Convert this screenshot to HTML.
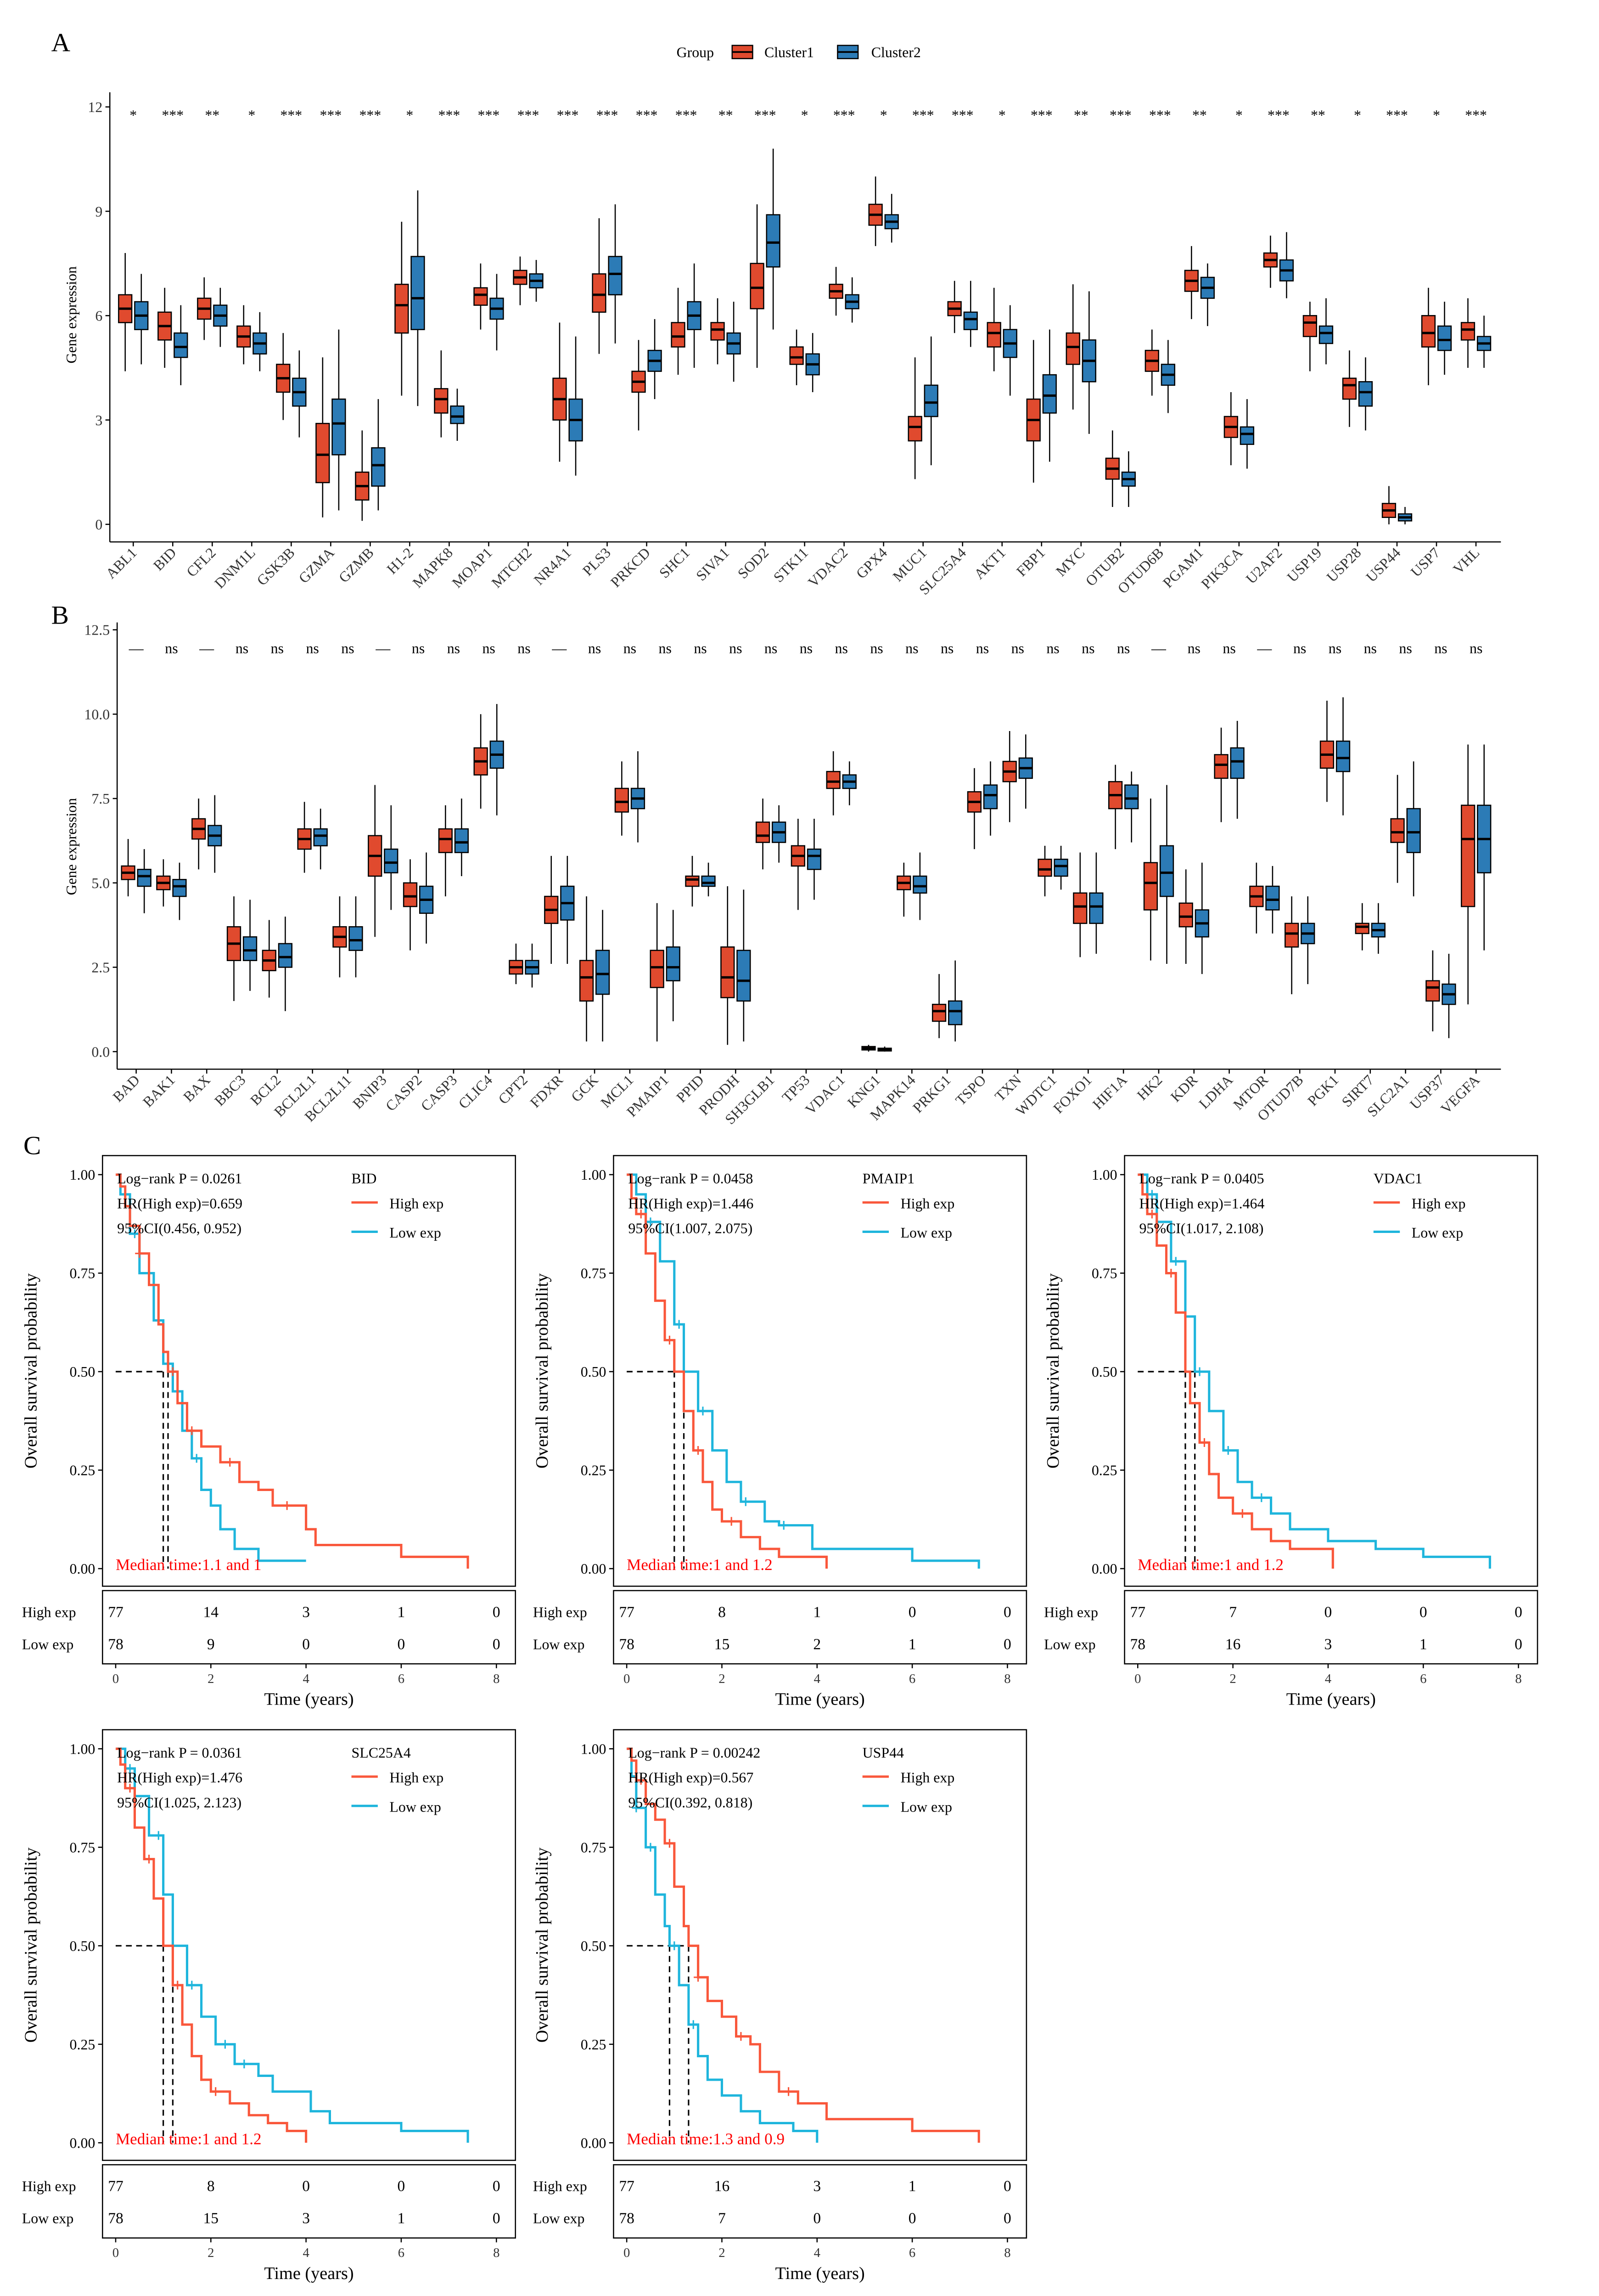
<!DOCTYPE html>
<html><head><meta charset="utf-8">
<style>
html,body{margin:0;padding:0;background:#fff;width:3483px;height:5102px;overflow:hidden;}
svg{display:block;font-family:"Liberation Serif",serif;}
</style></head>
<body>
<svg id="fig" width="3483" height="5102" viewBox="0 0 1092 1599.6" xmlns="http://www.w3.org/2000/svg" overflow="hidden">
<rect width="1092" height="1599.6" fill="#fff"/>
<g id="root"></g>
</svg>
<script>
// ---------- Panel A data ----------
const genesA=["ABL1","BID","CFL2","DNM1L","GSK3B","GZMA","GZMB","H1-2","MAPK8","MOAP1","MTCH2","NR4A1","PLS3","PRKCD","SHC1","SIVA1","SOD2","STK11","VDAC2","GPX4","MUC1","SLC25A4","AKT1","FBP1","MYC","OTUB2","OTUD6B","PGAM1","PIK3CA","U2AF2","USP19","USP28","USP44","USP7","VHL"];
const sigA=["*","***","**","*","***","***","***","*","***","***","***","***","***","***","***","**","***","*","***","*","***","***","*","***","**","***","***","**","*","***","**","*","***","*","***"];
// [median, q1, q3, whiskerLow, whiskerHigh]
const cluster1A=[[6.2,5.8,6.6,4.4,7.8],[5.7,5.3,6.1,4.5,6.8],[6.2,5.9,6.5,5.3,7.1],[5.4,5.1,5.7,4.6,6.3],[4.2,3.8,4.6,3.0,5.5],[2.0,1.2,2.9,0.2,4.8],[1.1,0.7,1.5,0.1,2.7],[6.3,5.5,6.9,3.7,8.7],[3.6,3.2,3.9,2.5,5.0],[6.6,6.3,6.8,5.6,7.5],[7.1,6.9,7.3,6.3,7.7],[3.6,3.0,4.2,1.8,5.8],[6.6,6.1,7.2,4.9,8.8],[4.1,3.8,4.4,2.7,5.3],[5.4,5.1,5.8,4.3,6.8],[5.6,5.3,5.8,4.6,6.5],[6.8,6.2,7.5,4.5,9.2],[4.8,4.6,5.1,4.0,5.6],[6.7,6.5,6.9,6.0,7.4],[8.9,8.6,9.2,8.0,10.0],[2.8,2.4,3.1,1.3,4.8],[6.2,6.0,6.4,5.5,7.0],[5.5,5.1,5.8,4.4,6.8],[3.0,2.4,3.6,1.2,5.3],[5.1,4.6,5.5,3.3,6.9],[1.6,1.3,1.9,0.5,2.7],[4.7,4.4,5.0,3.7,5.6],[7.0,6.7,7.3,5.9,8.0],[2.8,2.5,3.1,1.7,3.8],[7.6,7.4,7.8,6.8,8.3],[5.8,5.4,6.0,4.4,6.4],[4.0,3.6,4.2,2.8,5.0],[0.4,0.2,0.6,0.0,1.1],[5.5,5.1,6.0,4.0,6.8],[5.6,5.3,5.8,4.5,6.5]];
const cluster2A=[[6.0,5.6,6.4,4.6,7.2],[5.1,4.8,5.5,4.0,6.3],[6.0,5.7,6.3,5.1,6.8],[5.2,4.9,5.5,4.4,6.1],[3.8,3.4,4.2,2.5,5.0],[2.9,2.0,3.6,0.4,5.6],[1.7,1.1,2.2,0.4,3.6],[6.5,5.6,7.7,3.4,9.6],[3.1,2.9,3.4,2.4,3.9],[6.2,5.9,6.5,5.0,7.2],[7.0,6.8,7.2,6.4,7.6],[3.0,2.4,3.6,1.4,5.4],[7.2,6.6,7.7,5.2,9.2],[4.7,4.4,5.0,3.6,5.9],[6.0,5.6,6.4,4.5,7.5],[5.2,4.9,5.5,4.1,6.4],[8.1,7.4,8.9,5.6,10.8],[4.6,4.3,4.9,3.8,5.5],[6.4,6.2,6.6,5.8,7.1],[8.7,8.5,8.9,8.1,9.5],[3.5,3.1,4.0,1.7,5.4],[5.9,5.6,6.1,5.1,7.0],[5.2,4.8,5.6,3.7,6.3],[3.7,3.2,4.3,1.8,5.6],[4.7,4.1,5.3,2.6,6.7],[1.3,1.1,1.5,0.5,2.1],[4.3,4.0,4.6,3.2,5.3],[6.8,6.5,7.1,5.7,7.5],[2.6,2.3,2.8,1.6,3.6],[7.3,7.0,7.6,6.5,8.4],[5.5,5.2,5.7,4.6,6.5],[3.8,3.4,4.1,2.7,4.8],[0.2,0.1,0.3,0.0,0.5],[5.3,5.0,5.7,4.3,6.4],[5.2,5.0,5.4,4.5,6.0]];
const ticksA=[0,3,6,9,12];
// ---------- Panel B data ----------
const genesB=["BAD","BAK1","BAX","BBC3","BCL2","BCL2L1","BCL2L11","BNIP3","CASP2","CASP3","CLIC4","CPT2","FDXR","GCK","MCL1","PMAIP1","PPID","PRODH","SH3GLB1","TP53","VDAC1","KNG1","MAPK14","PRKG1","TSPO","TXN","WDTC1","FOXO1","HIF1A","HK2","KDR","LDHA","MTOR","OTUD7B","PGK1","SIRT7","SLC2A1","USP37","VEGFA"];
const sigB=["—","ns","—","ns","ns","ns","ns","—","ns","ns","ns","ns","—","ns","ns","ns","ns","ns","ns","ns","ns","ns","ns","ns","ns","ns","ns","ns","ns","—","ns","ns","—","ns","ns","ns","ns","ns","ns"];
const cluster1B=[[5.3,5.1,5.5,4.6,6.3],[5.0,4.8,5.2,4.3,5.7],[6.6,6.3,6.9,5.4,7.5],[3.2,2.7,3.7,1.5,4.6],[2.7,2.4,3.0,1.6,3.9],[6.3,6.0,6.6,5.3,7.4],[3.4,3.1,3.7,2.2,4.6],[5.8,5.2,6.4,3.4,7.9],[4.6,4.3,5.0,3.0,5.7],[6.3,5.9,6.6,4.6,7.3],[8.6,8.2,9.0,7.2,10.0],[2.5,2.3,2.7,2.0,3.2],[4.2,3.8,4.6,2.6,5.8],[2.2,1.5,2.7,0.3,4.6],[7.4,7.1,7.8,6.4,8.6],[2.5,1.9,3.0,0.3,4.4],[5.1,4.9,5.2,4.3,5.8],[2.2,1.6,3.1,0.2,4.9],[6.4,6.2,6.8,5.4,7.5],[5.8,5.5,6.1,4.2,6.9],[8.0,7.8,8.3,7.0,8.9],[0.1,0.05,0.15,0,0.2],[5.0,4.8,5.2,4.0,5.6],[1.2,0.9,1.4,0.4,2.3],[7.4,7.1,7.7,6.0,8.4],[8.3,8.0,8.6,6.8,9.5],[5.4,5.2,5.7,4.6,6.1],[4.3,3.8,4.7,2.8,5.9],[7.6,7.2,8.0,6.0,8.5],[5.0,4.2,5.6,2.7,7.5],[4.0,3.7,4.4,2.6,5.4],[8.5,8.1,8.8,6.8,9.6],[4.6,4.3,4.9,3.5,5.6],[3.5,3.1,3.8,1.7,4.6],[8.8,8.4,9.2,7.4,10.4],[3.7,3.5,3.8,3.0,4.4],[6.5,6.2,6.9,5.0,8.2],[1.9,1.5,2.1,0.6,3.0],[6.3,4.3,7.3,1.4,9.1]];
const cluster2B=[[5.2,4.9,5.4,4.1,6.0],[4.9,4.6,5.1,3.9,5.6],[6.4,6.1,6.7,5.3,7.6],[3.0,2.7,3.4,1.8,4.5],[2.8,2.5,3.2,1.2,4.0],[6.4,6.1,6.6,5.4,7.2],[3.3,3.0,3.7,2.2,4.6],[5.6,5.3,6.0,4.2,7.3],[4.5,4.1,4.9,3.2,5.9],[6.2,5.9,6.6,5.2,7.5],[8.8,8.4,9.2,7.0,10.3],[2.5,2.3,2.7,1.9,3.2],[4.4,3.9,4.9,2.6,5.8],[2.3,1.7,3.0,0.3,4.2],[7.5,7.2,7.8,6.2,8.9],[2.5,2.1,3.1,0.9,4.2],[5.0,4.9,5.2,4.6,5.6],[2.1,1.5,3.0,0.3,4.8],[6.5,6.2,6.8,5.6,7.3],[5.8,5.4,6.0,4.5,6.9],[8.0,7.8,8.2,7.3,8.6],[0.05,0.02,0.1,0,0.15],[4.9,4.7,5.2,3.9,5.9],[1.2,0.8,1.5,0.3,2.7],[7.6,7.2,7.9,6.4,8.6],[8.4,8.1,8.7,7.2,9.4],[5.5,5.2,5.7,4.8,6.1],[4.3,3.8,4.7,2.9,5.9],[7.5,7.2,7.9,6.2,8.3],[5.3,4.6,6.1,2.6,7.9],[3.8,3.4,4.2,2.3,5.6],[8.6,8.1,9.0,6.9,9.8],[4.5,4.2,4.9,3.5,5.5],[3.5,3.2,3.8,2.0,4.6],[8.7,8.3,9.2,7.0,10.5],[3.6,3.4,3.8,2.9,4.4],[6.5,5.9,7.2,4.6,8.6],[1.7,1.4,2.0,0.4,2.9],[6.3,5.3,7.3,3.0,9.1]];
const ticksB=[0,2.5,5,7.5,10,12.5];
// ---------- Panel C data ----------
const kmGenes=["BID","PMAIP1","VDAC1","SLC25A4","USP44"];
const kmPvals=["0.0261","0.0458","0.0405","0.0361","0.00242"];
const kmHR=["0.659","1.446","1.464","1.476","0.567"];
const kmCI=["0.456, 0.952","1.007, 2.075","1.017, 2.108","1.025, 2.123","0.392, 0.818"];
const kmMedHigh=[1.1,1,1,1,1.3];
const kmMedLow=[1,1.2,1.2,1.2,0.9];
const kmRiskHigh=[[77,14,3,1,0],[77,8,1,0,0],[77,7,0,0,0],[77,8,0,0,0],[77,16,3,1,0]];
const kmRiskLow=[[78,9,0,0,0],[78,15,2,1,0],[78,16,3,1,0],[78,15,3,1,0],[78,7,0,0,0]];
// step curves: [time, survival]
const kmHighCurves=[
 [[0,1],[0.1,0.97],[0.2,0.92],[0.3,0.87],[0.5,0.8],[0.7,0.72],[0.9,0.62],[1.0,0.55],[1.1,0.5],[1.3,0.42],[1.5,0.35],[1.8,0.31],[2.2,0.27],[2.6,0.22],[3.0,0.2],[3.3,0.16],[4.0,0.1],[4.2,0.06],[6.0,0.03],[7.4,0.0]],
 [[0,1],[0.1,0.94],[0.2,0.9],[0.4,0.8],[0.6,0.68],[0.8,0.58],[1.0,0.5],[1.2,0.4],[1.4,0.3],[1.6,0.22],[1.8,0.15],[2.0,0.12],[2.4,0.08],[2.8,0.05],[3.2,0.03],[4.2,0.0]],
 [[0,1],[0.1,0.95],[0.2,0.9],[0.4,0.82],[0.6,0.75],[0.8,0.65],[1.0,0.5],[1.1,0.42],[1.3,0.32],[1.5,0.24],[1.7,0.18],[2.0,0.14],[2.4,0.1],[2.8,0.07],[3.2,0.05],[4.0,0.05],[4.1,0.0]],
 [[0,1],[0.1,0.96],[0.2,0.9],[0.4,0.8],[0.6,0.72],[0.8,0.62],[1.0,0.5],[1.2,0.4],[1.4,0.3],[1.6,0.22],[1.8,0.16],[2.0,0.13],[2.4,0.1],[2.8,0.07],[3.2,0.05],[3.6,0.03],[4.0,0.0]],
 [[0,1],[0.1,0.97],[0.2,0.92],[0.4,0.86],[0.6,0.82],[0.8,0.76],[1.0,0.65],[1.2,0.55],[1.3,0.5],[1.5,0.42],[1.7,0.36],[2.0,0.32],[2.3,0.27],[2.6,0.25],[2.8,0.18],[3.2,0.13],[3.6,0.1],[4.2,0.06],[6.0,0.03],[7.4,0.0]]];
const kmLowCurves=[
 [[0,1],[0.1,0.95],[0.3,0.85],[0.5,0.75],[0.8,0.63],[1.0,0.52],[1.2,0.45],[1.4,0.35],[1.6,0.28],[1.8,0.2],[2.0,0.16],[2.2,0.1],[2.5,0.05],[3.0,0.02],[4.0,0.02]],
 [[0,1],[0.2,0.95],[0.4,0.88],[0.7,0.78],[1.0,0.62],[1.2,0.5],[1.5,0.4],[1.8,0.3],[2.1,0.22],[2.4,0.17],[2.9,0.12],[3.2,0.11],[3.9,0.05],[6.0,0.02],[7.4,0.0]],
 [[0,1],[0.2,0.95],[0.4,0.88],[0.7,0.78],[1.0,0.64],[1.2,0.5],[1.5,0.4],[1.8,0.3],[2.1,0.22],[2.4,0.18],[2.8,0.14],[3.2,0.1],[4.0,0.07],[5.0,0.05],[6.0,0.03],[7.4,0.0]],
 [[0,1],[0.2,0.95],[0.4,0.88],[0.7,0.78],[1.0,0.63],[1.2,0.5],[1.5,0.4],[1.8,0.32],[2.1,0.25],[2.5,0.2],[3.0,0.17],[3.3,0.13],[4.1,0.08],[4.5,0.05],[6.0,0.03],[7.4,0.0]],
 [[0,1],[0.1,0.93],[0.2,0.85],[0.4,0.75],[0.6,0.63],[0.8,0.55],[0.9,0.5],[1.1,0.4],[1.3,0.3],[1.5,0.22],[1.7,0.16],[2.0,0.12],[2.4,0.08],[2.8,0.05],[3.5,0.03],[4.0,0.0]]];
const kmCensorHigh=[[0.5,1.2,1.6,2.4,3.6],[0.3,0.9,1.5,2.2],[0.3,0.7,1.4,2.2],[0.3,0.7,1.3,2.1],[0.3,0.9,1.5,2.4,3.4]];
const kmCensorLow=[[0.4,0.9,1.3,1.7],[0.5,1.1,1.6,2.5,3.3],[0.3,0.8,1.3,1.9,2.6],[0.3,0.9,1.6,2.3,2.7],[0.2,0.5,1.0,1.4]];
const kmTimeTicks=[0,2,4,6,8];
const kmProbTicks=[0,0.25,0.5,0.75,1];

// ---------- helpers ----------
const NS="http://www.w3.org/2000/svg";
const root=document.getElementById('root');
function mk(tag,attrs,parent,text){const e=document.createElementNS(NS,tag);for(const k in attrs)e.setAttribute(k,attrs[k]);if(text!==undefined)e.textContent=text;(parent||root).appendChild(e);return e;}
const RED="#E04A2E",BLUE="#2C7BB6",KRED="#F9573B",KCYAN="#1EB5DC";

function boxPlot(g,x,v,fill,yf,w){
  const grp=mk('g',{},g);
  
  
  mk('line',{x1:x,x2:x,y1:yf(v[3]),y2:yf(v[4]),stroke:'#000','stroke-width':0.8},grp);
  const top=yf(v[2]),bot=yf(v[1]);
  mk('rect',{x:x-w/2,y:top,width:w,height:Math.max(bot-top,0.8),fill:fill,stroke:'#000','stroke-width':0.8},grp);
  mk('line',{x1:x-w/2,x2:x+w/2,y1:yf(v[0]),y2:yf(v[0]),stroke:'#000','stroke-width':1.6},grp);
}

function boxPanel(name,genes,sig,c1,c2,ticks,yf,xf,ax,axTop,axBot,xEnd,sigY,labY,tickFmt,titleY){
  const g=mk('g',{});
  
  
  mk('line',{x1:ax,x2:ax,y1:axTop,y2:axBot,stroke:'#000','stroke-width':0.8},g);
  mk('line',{x1:ax,x2:xEnd,y1:axBot,y2:axBot,stroke:'#000','stroke-width':0.8},g);
  ticks.forEach(t=>{
    mk('line',{x1:ax-3,x2:ax,y1:yf(t),y2:yf(t),stroke:'#000','stroke-width':0.8},g);
    const tl=mk('text',{x:ax-5,y:yf(t)+3.5,'text-anchor':'end','font-size':10,fill:'#333'},g,tickFmt(t));
    
    
  });
  const yt=mk('text',{x:0,y:0,'font-size':10,'text-anchor':'middle',transform:`translate(52,${titleY}) rotate(-90)`},g,'Gene expression');
  
  
  genes.forEach((gn,i)=>{
    const x=xf(i);
    boxPlot(g,x-5.5,c1[i],RED,yf,9);
    boxPlot(g,x+5.5,c2[i],BLUE,yf,9);
    mk('line',{x1:x,x2:x,y1:axBot,y2:axBot+3,stroke:'#000','stroke-width':0.8},g);
    const l=mk('text',{x:0,y:0,'font-size':10,'text-anchor':'end',fill:'#333',transform:`translate(${x+3},${labY}) rotate(-45)`},g,gn);
    
    
    const s=mk('text',{x:x,y:sigY,'font-size':10,'text-anchor':'middle'},g,sig[i]);
    
    
  });
}

// Panel letters & legend
[["A",35,35],["B",35,426],["C",16,788]].forEach(p=>{
  const t=mk('text',{x:p[1],y:p[2],'font-size':18},root,p[0]);
  
  
});
const lg=mk('g',{});


mk('text',{x:462,y:39,'font-size':10},lg,'Group');
mk('rect',{x:500,y:31,width:14,height:9,fill:RED,stroke:'#000','stroke-width':0.8},lg);
mk('line',{x1:500,x2:514,y1:35.5,y2:35.5,stroke:'#000','stroke-width':1.2},lg);
mk('text',{x:522,y:39,'font-size':10},lg,'Cluster1');
mk('rect',{x:572,y:31,width:14,height:9,fill:BLUE,stroke:'#000','stroke-width':0.8},lg);
mk('line',{x1:572,x2:586,y1:35.5,y2:35.5,stroke:'#000','stroke-width':1.2},lg);
mk('text',{x:595,y:39,'font-size':10},lg,'Cluster2');

boxPanel('panel-a',genesA,sigA,cluster1A,cluster2A,ticksA,v=>358-v*23.75,i=>91+i*26.97,75,63,370,1025,82,378,t=>String(t),215);
boxPanel('panel-b',genesB,sigB,cluster1B,cluster2B,ticksB,v=>718-v*23.04,i=>93+i*24.08,80,425,730,1025,446,738,t=>t.toFixed(1),578);

// ---------- KM plots ----------
const kmPos=[[70,789],[419,789],[768,789],[70,1181],[419,1181]];
function kmPlot(k){
  const fx=kmPos[k][0],fy=kmPos[k][1];
  const xT=t=>fx+9+t*32.5, yS=s=>fy+13+(1-s)*269;
  const g=mk('g',{});
  
  
  mk('rect',{x:fx,y:fy,width:282,height:294,fill:'none',stroke:'#000','stroke-width':0.8},g);
  kmProbTicks.forEach(p=>{
    mk('line',{x1:fx-3,x2:fx,y1:yS(p),y2:yS(p),stroke:'#000','stroke-width':0.8},g);
    mk('text',{x:fx-5,y:yS(p)+3.5,'text-anchor':'end','font-size':10},g,p.toFixed(2));
  });
  const yt=mk('text',{x:0,y:0,'font-size':12,'text-anchor':'middle',transform:`translate(${fx-45},${fy+147}) rotate(-90)`},g,'Overall survival probability');
  
  
  const mh=kmMedHigh[k],ml=kmMedLow[k],mx=Math.max(mh,ml);
  mk('line',{x1:xT(0),x2:xT(mx),y1:yS(0.5),y2:yS(0.5),stroke:'#000','stroke-dasharray':'4,3','stroke-width':1},g);
  [mh,ml].forEach(m=>mk('line',{x1:xT(m),x2:xT(m),y1:yS(0.5),y2:yS(0),stroke:'#000','stroke-dasharray':'4,3','stroke-width':1},g));
  function curve(pts,col,cens,nm){
    let d=`M${xT(pts[0][0])},${yS(pts[0][1])}`;
    for(let i=1;i<pts.length;i++){d+=` H${xT(pts[i][0])} V${yS(pts[i][1])}`;}
    const p=mk('path',{d:d,fill:'none',stroke:col,'stroke-width':1.6},g);
    
    
    cens.forEach(t=>{
      let s=pts[0][1];for(const q of pts){if(q[0]<=t)s=q[1];}
      const cx=xT(t),cy=yS(s);
      mk('path',{d:`M${cx-3},${cy}H${cx+3}M${cx},${cy-3}V${cy+3}`,stroke:col,'stroke-width':1},g);
    });
  }
  curve(kmLowCurves[k],KCYAN,kmCensorLow[k],'low-exp-curve');
  curve(kmHighCurves[k],KRED,kmCensorHigh[k],'high-exp-curve');
  mk('text',{x:fx+10,y:fy+19,'font-size':10},g,'Log−rank P = '+kmPvals[k]);
  mk('text',{x:fx+10,y:fy+36,'font-size':10},g,'HR(High exp)='+kmHR[k]);
  mk('text',{x:fx+10,y:fy+53,'font-size':10},g,'95%CI('+kmCI[k]+')');
  mk('text',{x:fx+170,y:fy+19,'font-size':10},g,kmGenes[k]);
  mk('line',{x1:fx+170,x2:fx+188,y1:fy+32,y2:fy+32,stroke:KRED,'stroke-width':1.6},g);
  mk('text',{x:fx+196,y:fy+36,'font-size':10},g,'High exp');
  mk('line',{x1:fx+170,x2:fx+188,y1:fy+52,y2:fy+52,stroke:KCYAN,'stroke-width':1.6},g);
  mk('text',{x:fx+196,y:fy+56,'font-size':10},g,'Low exp');
  mk('text',{x:fx+9,y:fy+283,'font-size':11,fill:'#F00'},g,`Median time:${mh} and ${ml}`);
  const rt=mk('g',{},g);
  
  
  mk('rect',{x:fx,y:fy+297,width:282,height:50,fill:'none',stroke:'#000','stroke-width':0.8},rt);
  mk('text',{x:fx-55,y:fy+315,'font-size':10},rt,'High exp');
  mk('text',{x:fx-55,y:fy+337,'font-size':10},rt,'Low exp');
  kmTimeTicks.forEach((t,i)=>{
    mk('text',{x:xT(t),y:fy+315,'font-size':10.5,'text-anchor':'middle'},rt,kmRiskHigh[k][i]);
    mk('text',{x:xT(t),y:fy+337,'font-size':10.5,'text-anchor':'middle'},rt,kmRiskLow[k][i]);
    mk('line',{x1:xT(t),x2:xT(t),y1:fy+347,y2:fy+350,stroke:'#000','stroke-width':0.8},rt);
    mk('text',{x:xT(t),y:fy+360,'font-size':9,'text-anchor':'middle','fill':'#333'},rt,t);
  });
  const xt=mk('text',{x:fx+141,y:fy+375,'font-size':12,'text-anchor':'middle'},g,'Time (years)');
  
  
}
for(let k=0;k<kmGenes.length;k++)kmPlot(k);
</script>
</body></html>
